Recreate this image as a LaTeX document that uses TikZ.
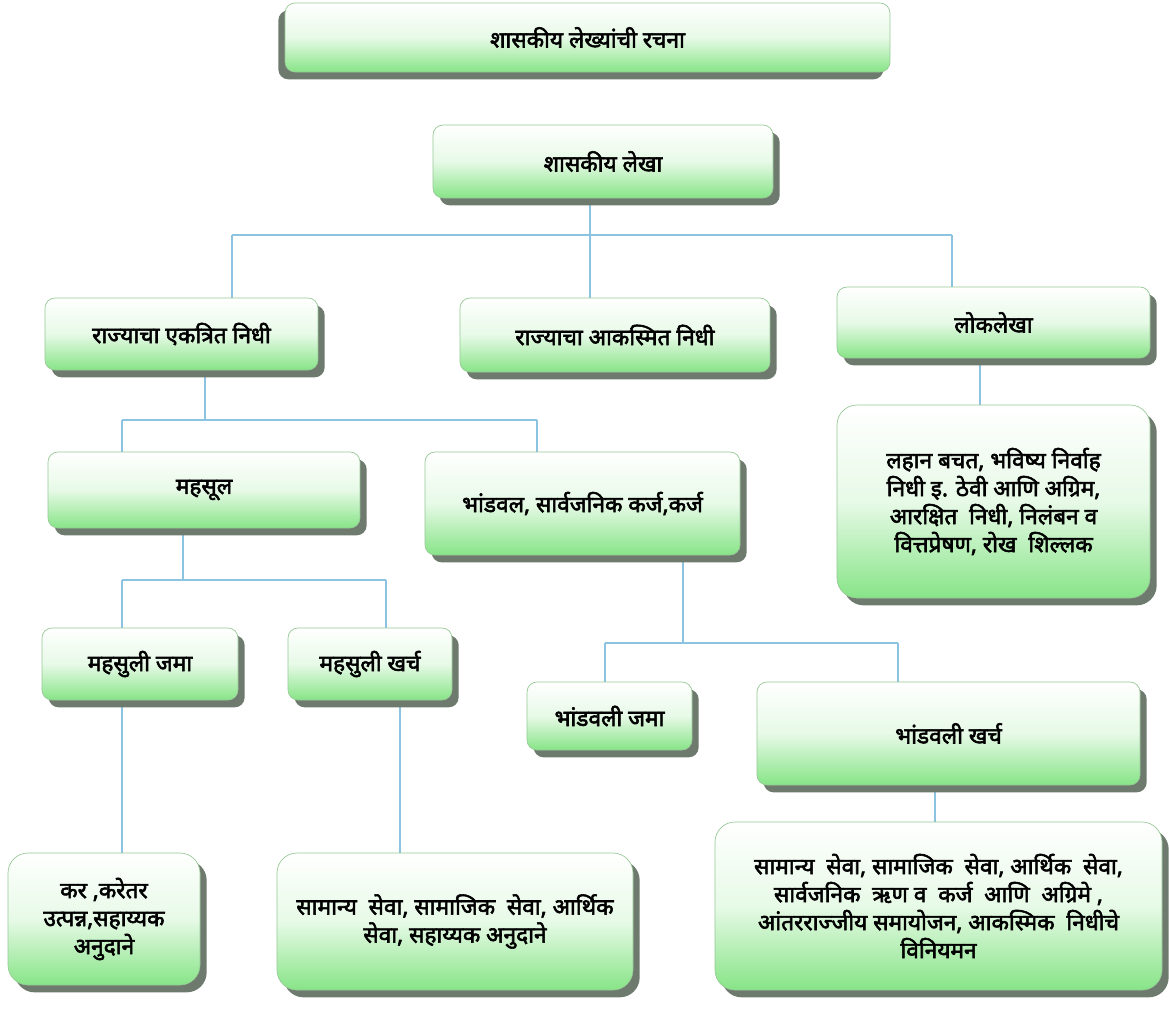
\documentclass[tikz,border=0pt]{standalone}
\usepackage{fontspec}
\newfontfamily\dev[Script=Devanagari, FakeBold=2.5]{Noto Sans}
\usetikzlibrary{shadows,backgrounds}
\definecolor{lgreen}{RGB}{135,228,135}
\definecolor{bord}{RGB}{150,200,150}
\definecolor{shd}{RGB}{110,122,110}
\definecolor{lnc}{RGB}{140,195,225}
\tikzset{
  boxbase/.style={rounded corners=7.5pt, draw=bord, line width=0.5pt,
    top color=white, bottom color=lgreen, middle color=white!80!lgreen,
    font=\dev\bfseries\fontsize{17}{21}\selectfont, align=center, inner sep=2pt, text=black},
  box/.style={boxbase, drop shadow={shadow xshift=5pt, shadow yshift=-5.5pt, fill=shd, opacity=1}},
  boxl/.style={boxbase, drop shadow={shadow xshift=-5pt, shadow yshift=-5.5pt, fill=shd, opacity=1}},
  big/.style={rounded corners=15pt},
  ln/.style={draw=lnc, line width=0.8pt}}
\begin{document}
\begin{tikzpicture}[x=0.75pt,y=-0.75pt]
\useasboundingbox (0,0) rectangle (1169,1008);
\node[boxl, minimum width=453.75pt, minimum height=51.75pt] (title) at (587.5,37.5) {शासकीय लेख्यांची रचना};
\node[box, minimum width=255pt, minimum height=54.75pt] (sl) at (603,161.5) {शासकीय लेखा};
\node[box, minimum width=204.75pt, minimum height=54pt] (ek) at (181.5,334) {राज्याचा एकत्रित निधी};
\node[box, minimum width=232.5pt, minimum height=55.5pt] (ak) at (615,335) {राज्याचा आकस्मित निधी};
\node[box, minimum width=234.75pt, minimum height=53.25pt] (lok) at (993.5,322.5) {लोकलेखा};
\node[box, big, minimum width=234.75pt, minimum height=144.75pt] (lokd) at (993.5,501.5) {लहान बचत, भविष्य निर्वाह\\निधी इ. ठेवी आणि अग्रिम,\\आरक्षित~ निधी, निलंबन व\\वित्तप्रेषण, रोख~ शिल्लक};
\node[box, minimum width=234pt, minimum height=57pt] (mah) at (204,490) {महसूल};
\node[box, minimum width=236.25pt, minimum height=77.25pt] (bhan) at (582.5,503.5) {भांडवल, सार्वजनिक कर्ज,कर्ज};
\node[box, minimum width=147pt, minimum height=54pt] (mj) at (140,664) {महसुली जमा};
\node[box, minimum width=123pt, minimum height=54pt] (mk) at (370,664) {महसुली खर्च};
\node[box, minimum width=123.75pt, minimum height=51pt] (bj) at (609.5,716) {भांडवली जमा};
\node[box, minimum width=287.25pt, minimum height=77.25pt] (bk) at (948.5,733.5) {भांडवली खर्च};
\node[box, big, minimum width=144pt, minimum height=99pt] (kar) at (104,919) {कर ,करेतर\\उत्पन्न,सहाय्यक\\अनुदाने};
\node[box, big, minimum width=267pt, minimum height=102.75pt] (ss1) at (455,921.5) {सामान्य~ सेवा, सामाजिक~ सेवा, आर्थिक\\सेवा, सहाय्यक अनुदाने};
\node[box, big, minimum width=335.25pt, minimum height=126pt] (ss2) at (938.5,906) {सामान्य~ सेवा, सामाजिक~ सेवा, आर्थिक~ सेवा,\\सार्वजनिक~ ऋण व~ कर्ज~ आणि~ अग्रिमे ,\\आंतरराज्जीय समायोजन, आकस्मिक~ निधीचे\\विनियमन};
\begin{pgfonlayer}{background}
\fill[white] (0,0) rectangle (1169,1008);
\coordinate (a1) at (232,235); \coordinate (a2) at (590,235); \coordinate (a3) at (952,235);
\draw[ln] (sl.south -| a2) -- (a2);
\draw[ln] (a1) -- (a3);
\draw[ln] (a1) -- (ek.north -| a1);
\draw[ln] (a2) -- (ak.north -| a2);
\draw[ln] (a3) -- (lok.north -| a3);
\coordinate (b0) at (205,420); \coordinate (b1) at (122,420); \coordinate (b2) at (537,420);
\draw[ln] (ek.south -| b0) -- (b0);
\draw[ln] (b1) -- (b2);
\draw[ln] (b1) -- (mah.north -| b1);
\draw[ln] (b2) -- (bhan.north -| b2);
\coordinate (c0) at (980,380);
\draw[ln] (lok.south -| c0) -- (lokd.north -| c0);
\coordinate (d0) at (183,580); \coordinate (d1) at (122,580); \coordinate (d2) at (386,580);
\draw[ln] (mah.south -| d0) -- (d0);
\draw[ln] (d1) -- (d2);
\draw[ln] (d1) -- (mj.north -| d1);
\draw[ln] (d2) -- (mk.north -| d2);
\coordinate (e0) at (683,643); \coordinate (e1) at (605,643); \coordinate (e2) at (898,643);
\draw[ln] (bhan.south -| e0) -- (e0);
\draw[ln] (e1) -- (e2);
\draw[ln] (e1) -- (bj.north -| e1);
\draw[ln] (e2) -- (bk.north -| e2);
\coordinate (f1) at (122,780); \coordinate (f2) at (400,780); \coordinate (f3) at (935,800);
\draw[ln] (mj.south -| f1) -- (kar.north -| f1);
\draw[ln] (mk.south -| f2) -- (ss1.north -| f2);
\draw[ln] (bk.south -| f3) -- (ss2.north -| f3);
\end{pgfonlayer}
\end{tikzpicture}
\end{document}
